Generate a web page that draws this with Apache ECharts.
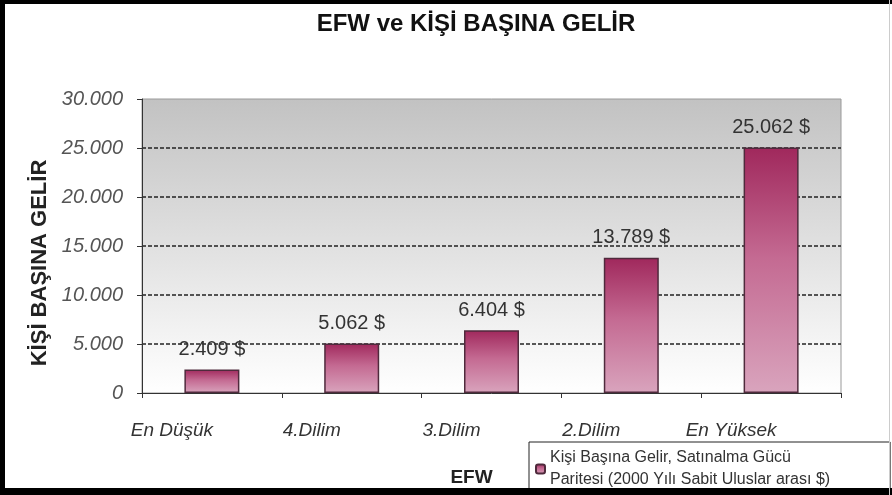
<!DOCTYPE html>
<html>
<head>
<meta charset="utf-8">
<script src="https://cdn.jsdelivr.net/npm/echarts@6/dist/echarts.min.js"></script>
<style>
  html, body { margin: 0; padding: 0; background: #fff; }
  #chart { width: 892px; height: 495px; }
</style>
</head>
<body>
<div id="chart"></div>
<script>
const categories = ['En Düşük', '4.Dilim', '3.Dilim', '2.Dilim', 'En Yüksek'];
const income = [2409, 5062, 6404, 13789, 25062];
const seriesName = 'Kişi Başına Gelir, Satınalma Gücü\nParitesi (2000 Yılı Sabit Uluslar arası $)';

// 25062 -> "25.062"
const dotted = (v) => String(v).replace(/\B(?=(\d{3})+(?!\d))/g, '.');

const chart = echarts.init(document.getElementById('chart'));

const option = {
  backgroundColor: '#fff',
  textStyle: { fontFamily: 'Liberation Sans, Arial, sans-serif' },
  title: {
    text: 'EFW ve KİŞİ BAŞINA GELİR',
    left: 471,
    textAlign: 'center',
    top: 7,
    textStyle: { fontSize: 24, fontWeight: 'bold', color: '#111' },
  },
  grid: {
    left: 142,
    top: 99,
    right: 51,
    bottom: 102,
    show: true,
    borderColor: '#9a9a9a',
    borderWidth: 1,
    backgroundColor: new echarts.graphic.LinearGradient(0, 0, 0, 1, [
      { offset: 0, color: '#c2c2c2' },
      { offset: 1, color: '#ffffff' },
    ]),
  },
  legend: {
    left: 529,
    top: 442,
    orient: 'vertical',
    backgroundColor: '#fff',
    borderColor: '#222',
    borderWidth: 1,
    padding: [5, 60, 20, 6],
    itemWidth: 9,
    itemHeight: 9,
    itemGap: 2,
    textStyle: { fontSize: 16, color: '#333', lineHeight: 22 },
    data: [seriesName],
  },
  xAxis: {
    type: 'category',
    data: categories,
    name: 'EFW',
    nameLocation: 'middle',
    nameGap: 75,
    nameTextStyle: { fontSize: 19, fontWeight: 'bold', color: '#222', padding: [0, 40, 0, 0] },
    axisLine: { lineStyle: { color: '#333', width: 1 } },
    axisTick: { show: true, length: 5, lineStyle: { color: '#333' } },
    axisLabel: {
      margin: 28,
      fontSize: 19,
      fontStyle: 'italic',
      color: '#333',
      padding: [0, 80, 0, 0],
    },
  },
  yAxis: {
    type: 'value',
    min: 0,
    max: 30000,
    interval: 5000,
    name: 'KİŞİ BAŞINA GELİR',
    nameLocation: 'middle',
    nameGap: 89,
    nameTextStyle: { fontSize: 22, fontWeight: 'bold', color: '#222', padding: [0, 34, 0, 0] },
    axisLine: { show: true, lineStyle: { color: '#333', width: 1 } },
    axisTick: { show: true, length: 5, lineStyle: { color: '#333' } },
    axisLabel: {
      margin: 19,
      fontSize: 20,
      fontStyle: 'italic',
      color: '#555',
      formatter: (v) => dotted(v),
    },
    splitLine: {
      show: true,
      showMinLine: false,
      showMaxLine: false,
      lineStyle: { color: '#222', type: [4, 2], width: 1.5 },
    },
  },
  series: [
    {
      name: seriesName,
      type: 'bar',
      data: income,
      barWidth: 55,
      itemStyle: {
        borderColor: '#4f2a3c',
        borderWidth: 1.5,
        color: new echarts.graphic.LinearGradient(0, 0, 0, 1, [
          { offset: 0, color: '#a0285c' },
          { offset: 0.45, color: '#c46a92' },
          { offset: 1, color: '#d9a4bd' },
        ]),
      },
      label: {
        show: true,
        position: 'top',
        distance: 10,
        fontSize: 20,
        color: '#333',
        formatter: (p) => dotted(p.value) + ' $',
      },
    },
  ],
  graphic: [
    { type: 'rect', z: 100, shape: { x: 0, y: 0, width: 892, height: 4 }, style: { fill: '#000' } },
    { type: 'rect', z: 100, shape: { x: 0, y: 0, width: 5, height: 495 }, style: { fill: '#000' } },
    { type: 'rect', z: 100, shape: { x: 0, y: 488, width: 892, height: 7 }, style: { fill: '#000' } },
    { type: 'rect', z: 100, shape: { x: 889, y: 0, width: 1, height: 495 }, style: { fill: '#ccc' } },
  ],
};

chart.setOption(option);
</script>
</body>
</html>
